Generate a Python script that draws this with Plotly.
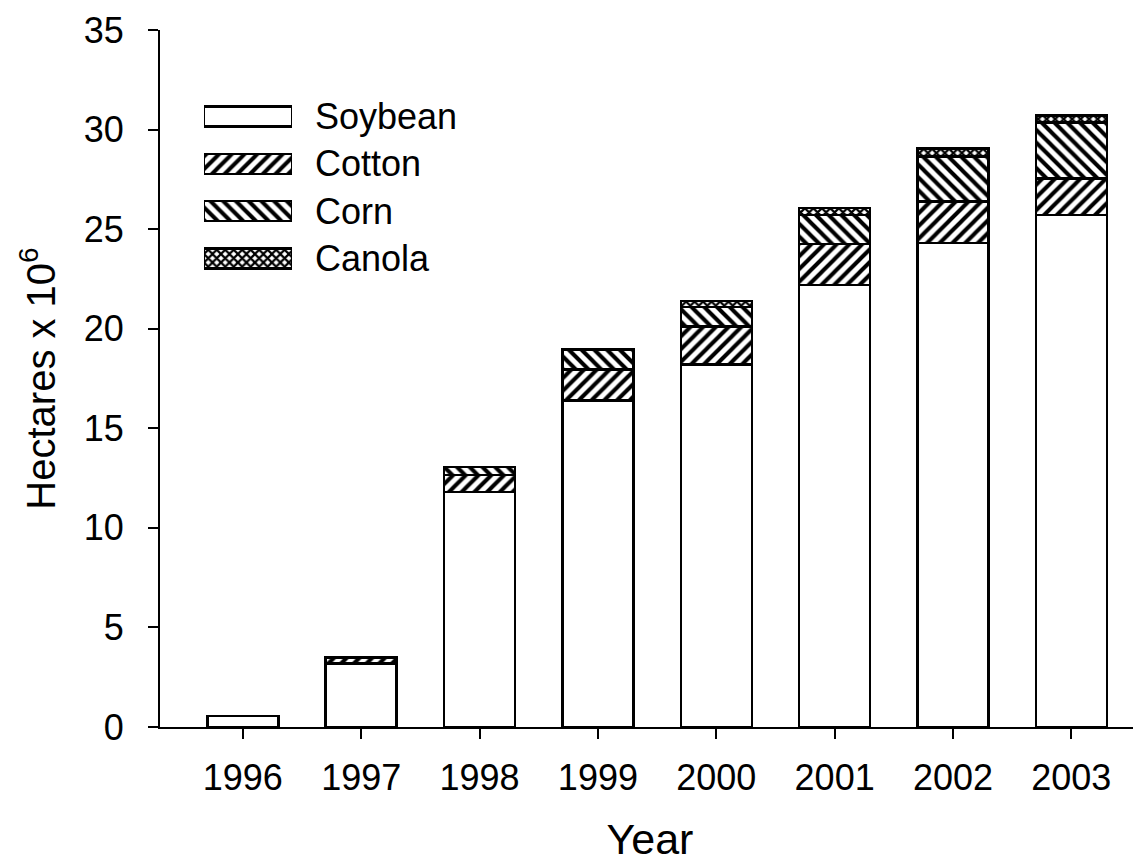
import plotly.graph_objects as go

years = [1996, 1997, 1998, 1999, 2000, 2001, 2002, 2003]
soybean = [0.55, 3.2, 11.8, 16.4, 18.2, 22.2, 24.3, 25.7]
cotton = [0.0, 0.3, 0.85, 1.55, 1.9, 2.05, 2.1, 1.85]
corn = [0.0, 0.0, 0.4, 1.0, 1.0, 1.45, 2.25, 2.8]
canola = [0.0, 0.0, 0.0, 0.0, 0.3, 0.35, 0.4, 0.35]

crop_names = ["Soybean", "Cotton", "Corn", "Canola"]
series = [soybean, cotton, corn, canola]
patterns = ["", "/", "\\", "x"]
pat_sizes = [8, 9, 9, 6]
pat_solid = [0.3, 0.45, 0.45, 0.6]

y_ticks = [0, 5, 10, 15, 20, 25, 30, 35]

FONT = "Liberation Sans, Arial, sans-serif"
# the page body adds an 8px offset, so the figure is sized/margined to compensate
OFF = 8
W, H = 1141 - OFF, 863 - OFF
L, R, T, B = 160 - OFF, 1, 30 - OFF, 136

fig = go.Figure()

def marker_for(pat, ps, sol):
    return dict(color="white",
                line=dict(color="black", width=2.5),
                pattern=dict(shape=pat, fgcolor="black", bgcolor="white",
                             fgopacity=1, size=ps, solidity=sol, fillmode="replace"))

for name, vals, pat, ps, sol in zip(crop_names, series, patterns, pat_sizes, pat_solid):
    fig.add_trace(go.Bar(
        x=years, y=vals, name=name, width=0.6,
        marker=marker_for(pat, ps, sol),
        showlegend=False, hoverinfo="x+y+name",
    ))

# Legend drawn as horizontal bars on an overlay axis
for name, pat, ps, sol in zip(crop_names, patterns, pat_sizes, pat_solid):
    fig.add_trace(go.Bar(
        x=[1], y=[name], orientation="h", width=0.42,
        xaxis="x2", yaxis="y2", showlegend=False, hoverinfo="skip",
        marker=marker_for(pat, ps, sol),
    ))

pw = W - L - R
ph = H - T - B

def px_x(p):
    return (p - OFF - L) / pw

def px_y(p):
    return (H - B - (p - OFF)) / ph

fig.update_layout(
    width=W, height=H,
    margin=dict(l=L, r=R, t=T, b=B, pad=0, autoexpand=False),
    paper_bgcolor="white", plot_bgcolor="white",
    barmode="stack",
    font=dict(family=FONT, color="black", size=36),
    xaxis=dict(
        range=[1995.3, 2003.58], tickvals=years, ticktext=[str(y) for y in years],
        showline=True, linecolor="black", linewidth=2,
        ticks="outside", ticklen=10, tickwidth=2, tickcolor="black",
        showgrid=False, zeroline=False, automargin=False,
        ticklabelstandoff=8,
        tickfont=dict(size=36, family=FONT),
        title=dict(text="Year", font=dict(size=43, family=FONT), standoff=32),
    ),
    yaxis=dict(
        range=[0, 35], tickvals=y_ticks,
        showline=True, linecolor="black", linewidth=2,
        ticks="outside", ticklen=10, tickwidth=2, tickcolor="black",
        showgrid=False, zeroline=False, automargin=False,
        ticklabelstandoff=17,
        tickfont=dict(size=36, family=FONT),
        title=dict(text="Hectares x 10<sup>6</sup>", font=dict(size=40, family=FONT), standoff=16),
    ),
    xaxis2=dict(domain=[px_x(204), px_x(292)], range=[0, 1], anchor="y2",
                visible=False, fixedrange=True),
    yaxis2=dict(domain=[px_y(282.2), px_y(92.8)], anchor="x2", side="right",
                categoryorder="array", categoryarray=crop_names, autorange="reversed",
                showline=False, showgrid=False, zeroline=False, ticks="",
                automargin=False,
                ticklabelstandoff=22, tickfont=dict(size=36, family=FONT),
                fixedrange=True),
)

fig.write_html("out.html")
